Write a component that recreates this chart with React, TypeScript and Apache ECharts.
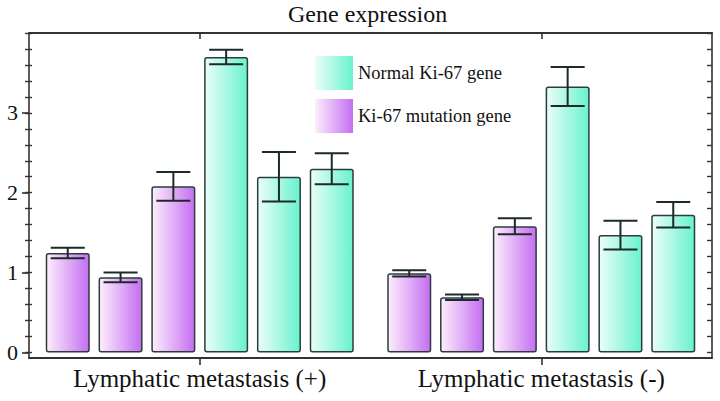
import React, { useEffect, useRef } from "react";
import * as echarts from "echarts";

const categories = ["Lymphatic metastasis (+)", "Lymphatic metastasis (-)"];
const mutationPos = [1.245, 0.94, 2.08];
const mutationPosErr = [0.065, 0.06, 0.18];
const mutationNeg = [0.99, 0.69, 1.58];
const mutationNegErr = [0.04, 0.035, 0.1];
const normalPos = [3.7, 2.2, 2.3];
const normalPosErr = [0.09, 0.31, 0.195];
const normalNeg = [3.33, 1.47, 1.725];
const normalNegErr = [0.245, 0.18, 0.16];
const yLabelValues = [0, 1, 2, 3];
const yMinorTicks = [0, 0.2, 0.4, 0.6, 0.8, 1, 1.2, 1.4, 1.6, 1.8, 2, 2.2, 2.4, 2.6, 2.8, 3, 3.2, 3.4, 3.6, 3.8, 4];

const NORMAL = "Normal Ki-67 gene";
const MUTATION = "Ki-67 mutation gene";

const FONT = "Liberation Serif";
const FRAME = "#333";
const BAR_W = 44;
const GAP = 0.2;

const purple = new echarts.graphic.LinearGradient(0, 0, 1, 0, [
  { offset: 0, color: "#fdeefc" },
  { offset: 1, color: "#c46ef1" },
]);
const teal = new echarts.graphic.LinearGradient(0, 0, 1, 0, [
  { offset: 0, color: "#ebfdf8" },
  { offset: 1, color: "#68f3cd" },
]);

export default function App() {
  const ref = useRef<HTMLDivElement>(null);
  useEffect(() => {
    if (!ref.current) return;
    const chart = echarts.init(ref.current, undefined, { renderer: "svg" });

    const barSeries: any[] = [];
    const errData: any[] = [];
    for (let i = 0; i < 6; i++) {
      const isMut = i < 3;
      const k = isMut ? i : i - 3;
      const vals = isMut ? [mutationPos[k], mutationNeg[k]] : [normalPos[k], normalNeg[k]];
      const errs = isMut ? [mutationPosErr[k], mutationNegErr[k]] : [normalPosErr[k], normalNegErr[k]];
      barSeries.push({
        type: "bar",
        name: isMut ? MUTATION : NORMAL,
        data: vals,
        barWidth: BAR_W,
        barGap: GAP * 100 + "%",
        itemStyle: {
          color: isMut ? purple : teal,
          borderColor: "#2c3c3c",
          borderWidth: 1.5,
          borderRadius: 2,
        },
        z: 2,
      });
      vals.forEach((v, c) => errData.push([c, v, errs[c], i]));
    }

    const minorAxis = (position: string, inside: boolean, len: number, line: boolean) => ({
      type: "value",
      position,
      min: -0.07,
      max: 4,
      axisLine: { show: line, onZero: false, lineStyle: { color: FRAME, width: 1.6 } },
      axisLabel: { show: false },
      axisTick: { show: true, inside, length: len, customValues: yMinorTicks, lineStyle: { color: FRAME, width: 1.4 } },
      splitLine: { show: false },
    });

    chart.setOption({
      animation: false,
      textStyle: { fontFamily: FONT },
      title: {
        text: "Gene expression",
        left: 288,
        top: 2,
        padding: 0,
        textStyle: { fontFamily: FONT, fontSize: 24, fontWeight: "normal", color: "#111" },
      },
      legend: {
        data: [NORMAL, MUTATION],
        orient: "vertical",
        left: 315,
        top: 56,
        padding: 0,
        itemWidth: 38,
        itemHeight: 34,
        itemGap: 9,
        icon: "rect",
        itemStyle: { borderWidth: 0 },
        textStyle: { fontFamily: FONT, fontSize: 18.5, color: "#111" },
      },
      grid: { left: 29, right: 8, top: 33, bottom: 43, containLabel: false },
      xAxis: [
        {
          type: "category",
          data: categories,
          position: "bottom",
          axisLine: { show: true, onZero: false, lineStyle: { color: FRAME, width: 1.8 } },
          axisTick: { show: true, alignWithLabel: true, length: 7, lineStyle: { color: FRAME, width: 1.6 } },
          axisLabel: {
            margin: 8,
            formatter: "{t|{value}}",
            rich: { t: { fontFamily: FONT, fontSize: 25, color: "#111" } },
          },
        },
        {
          type: "category",
          data: categories,
          position: "top",
          axisLine: { show: true, onZero: false, lineStyle: { color: FRAME, width: 2 } },
          axisTick: { show: true, alignWithLabel: true, inside: true, length: 6, lineStyle: { color: FRAME, width: 1.6 } },
          axisLabel: { show: false },
        },
      ],
      yAxis: [
        {
          type: "value",
          position: "left",
          min: -0.07,
          max: 4,
          axisLine: { show: true, onZero: false, lineStyle: { color: FRAME, width: 1.6 } },
          axisLabel: {
            show: true,
            customValues: yLabelValues,
            margin: 11,
            formatter: "{t|{value}}",
            rich: { t: { fontFamily: FONT, fontSize: 22, color: "#111" } },
          },
          axisTick: { show: true, customValues: yLabelValues, length: 7, lineStyle: { color: FRAME, width: 1.6 } },
          splitLine: { show: false },
        },
        minorAxis("left", true, 3, false),
        minorAxis("left", false, 4, false),
        minorAxis("right", true, 5, true),
      ],
      series: [
        ...barSeries,
        {
          type: "custom",
          name: "error",
          data: errData,
          encode: { x: 0, y: 1 },
          z: 5,
          renderItem: (params: any, api: any) => {
            const c = api.value(0);
            const m = api.value(1);
            const e = api.value(2);
            const idx = api.value(3);
            const top = api.coord([c, m + e]);
            const bot = api.coord([c, m - e]);
            const x = top[0] + (idx - 2.5) * BAR_W * (1 + GAP);
            const hw = 17;
            const style = { stroke: "#1e2a2a", lineWidth: 2, fill: "none" };
            return {
              type: "group",
              children: [
                { type: "line", shape: { x1: x, y1: top[1], x2: x, y2: bot[1] }, style },
                { type: "line", shape: { x1: x - hw, y1: top[1], x2: x + hw, y2: top[1] }, style },
                { type: "line", shape: { x1: x - hw, y1: bot[1], x2: x + hw, y2: bot[1] }, style },
              ],
            };
          },
        },
      ],
    });
    return () => chart.dispose();
  }, []);
  return <div ref={ref} style={{ width: 720, height: 401, position: "absolute", left: 0, top: 0, background: "#fff" }} />;
}
